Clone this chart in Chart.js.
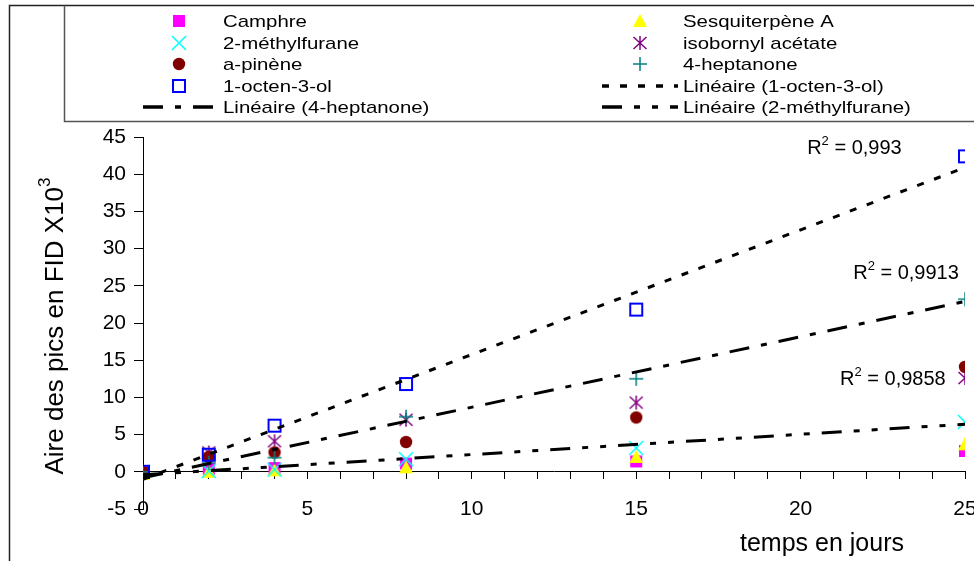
<!DOCTYPE html>
<html>
<head>
<meta charset="utf-8">
<script src="https://cdn.jsdelivr.net/npm/chart.js@4.4.1/dist/chart.umd.min.js"></script>
<style>
  html, body { margin: 0; padding: 0; background: #fff; }
  #wrap { position: relative; width: 974px; height: 561px; }
</style>
</head>
<body>
<div id="wrap"><canvas id="c" width="974" height="561"></canvas></div>
<script>
// values (x10^3)
const days = [0, 2, 4, 8, 15, 25];
const camphre = [0.1, 0.4, 0.5, 1.1, 1.4, 2.8];
const sesquiterpene = [-0.3, 0.0, 0.2, 0.6, 2.0, 3.7];
const methylfurane = [0.0, 0.1, 0.3, 1.7, 3.2, 6.7];
const isobornyl = [0.0, 2.6, 4.1, 7.0, 9.3, 12.6];
const apinene = [0.0, 2.0, 2.6, 4.0, 7.3, 14.1];
const heptanone = [0.0, 1.2, 1.9, 7.4, 12.5, 23.2];
const octenol = [0.0, 2.3, 6.2, 11.8, 21.8, 42.4];

// linear trend lines, ends
const trendDays = [0, 25];
const trendOctenol = [-1.0, 40.9];
const trendHeptanone = [-0.8, 22.9];
const trendMethylfurane = [-0.4, 6.4];
const r2Values = ['0,993', '0,9913', '0,9858'];

const FONT = "'Liberation Sans', Arial, sans-serif";

const pts = (xs, ys) => ys.map((y, i) => ({ x: xs[i], y: y }));

// small canvases used as point styles (and in the legend)
function marker(kind, color) {
  const c = document.createElement('canvas');
  c.width = 20; c.height = 20;
  const g = c.getContext('2d');
  g.fillStyle = color; g.strokeStyle = color; g.lineWidth = 1.5;
  g.beginPath();
  if (kind === 'square') {
    g.fillRect(4, 4, 12, 12);
  } else if (kind === 'box') {
    g.lineWidth = 2;
    g.strokeRect(4, 4, 12, 12);
  } else if (kind === 'triangle') {
    g.moveTo(10, 3); g.lineTo(17, 16); g.lineTo(3, 16); g.closePath(); g.fill();
  } else if (kind === 'circle') {
    g.arc(10, 10, 6.2, 0, Math.PI * 2); g.fill();
  } else if (kind === 'x') {
    g.moveTo(3, 3); g.lineTo(17, 17); g.moveTo(17, 3); g.lineTo(3, 17); g.stroke();
  } else if (kind === 'star') {
    g.moveTo(3.5, 4); g.lineTo(16.5, 16); g.moveTo(16.5, 4); g.lineTo(3.5, 16);
    g.moveTo(10, 3); g.lineTo(10, 17); g.stroke();
  } else if (kind === 'plus') {
    g.moveTo(10, 3); g.lineTo(10, 17); g.moveTo(3, 10); g.lineTo(17, 10); g.stroke();
  }
  return c;
}

function series(label, ys, kind, color, order) {
  return {
    type: 'scatter', label: label, data: pts(days, ys),
    pointStyle: marker(kind, color), pointRadius: 7, borderColor: color, backgroundColor: color,
    showLine: false, order: order
  };
}

function trend(label, ys, dash, order) {
  return {
    type: 'scatter', label: label, data: pts(trendDays, ys),
    showLine: true, borderColor: '#000', borderWidth: 3, borderDash: dash,
    pointRadius: 0, borderCapStyle: 'butt', order: order
  };
}

const datasets = [
  series('Camphre', camphre, 'square', '#FF00FF', 7),
  series('Sesquiterpène A', sesquiterpene, 'triangle', '#FFFF00', 6),
  series('2-méthylfurane', methylfurane, 'x', '#00FFFF', 5),
  series('isobornyl acétate', isobornyl, 'star', '#800080', 4),
  series('a-pinène', apinene, 'circle', '#800000', 3),
  series('4-heptanone', heptanone, 'plus', '#008080', 2),
  series('1-octen-3-ol', octenol, 'box', '#0000FF', 1),
  trend('Linéaire (1-octen-3-ol)', trendOctenol, [7, 11], 0),
  trend('Linéaire (4-heptanone)', trendHeptanone, [20, 12, 6, 12], 0),
  trend('Linéaire (2-méthylfurane)', trendMethylfurane, [20, 12, 6, 12, 6, 12], 0)
];

// legend: two columns, row by row
const legendCols = [[0, 2, 4, 6, 8], [1, 3, 5, 7, 9]];
const legendRowsY = [21, 43, 64, 86, 107];

const decor = {
  id: 'decor',
  beforeDraw(chart) {
    const ctx = chart.ctx;
    ctx.save();
    ctx.strokeStyle = '#222'; ctx.lineWidth = 1.5;
    ctx.beginPath();
    ctx.moveTo(9.5, 561); ctx.lineTo(9.5, 5.5); ctx.lineTo(974, 5.5);
    ctx.stroke();
    ctx.strokeStyle = '#555'; ctx.lineWidth = 1.5;
    ctx.beginPath();
    ctx.moveTo(64.5, 5.5); ctx.lineTo(64.5, 121.5); ctx.lineTo(974, 121.5);
    ctx.stroke();
    ctx.restore();
  },
  afterDraw(chart) {
    const ctx = chart.ctx;
    const xs = chart.scales.x, ys = chart.scales.y;
    ctx.save();
    // legend
    const colPos = [{ m: 179, l0: 143, l1: 219, t: 223 }, { m: 640, l0: 602, l1: 678, t: 683 }];
    ctx.textBaseline = 'middle';
    ctx.textAlign = 'left';
    legendCols.forEach((col, ci) => {
      const p = colPos[ci];
      col.forEach((di, ri) => {
        const ds = chart.data.datasets[di];
        const y = legendRowsY[ri];
        if (ds.showLine) {
          ctx.save();
          ctx.strokeStyle = '#000'; ctx.lineWidth = 3.5;
          ctx.setLineDash(ds.borderDash);
          ctx.beginPath(); ctx.moveTo(p.l0, y); ctx.lineTo(p.l1, y); ctx.stroke();
          ctx.restore();
        } else {
          const img = ds.pointStyle;
          ctx.drawImage(img, p.m - img.width / 2, y - img.height / 2);
        }
        // legend text is drawn a little wide, like the original
        ctx.save();
        ctx.translate(p.t, y + 1);
        ctx.scale(1.2, 1);
        ctx.font = '17px ' + FONT;
        ctx.fillStyle = '#000';
        ctx.fillText(ds.label, 0, 0);
        ctx.restore();
      });
    });
    // R² labels, anchored in data units
    ctx.fillStyle = '#000';
    const anchors = [[20.2, 43.5], [21.6, 26.6], [21.2, 12.4]];
    anchors.forEach((a, i) => {
      let x = xs.getPixelForValue(a[0]);
      const y = ys.getPixelForValue(a[1]);
      ctx.font = '20px ' + FONT;
      ctx.fillText('R', x, y);
      x += ctx.measureText('R').width;
      ctx.font = '13px ' + FONT;
      ctx.fillText('2', x, y - 7);
      x += ctx.measureText('2').width;
      ctx.font = '20px ' + FONT;
      ctx.fillText(' = ' + r2Values[i], x, y);
    });
    // axis titles
    ctx.font = '25px ' + FONT;
    ctx.textAlign = 'center';
    ctx.fillText('temps en jours', 822, 544);
    ctx.translate(56, 326);
    ctx.rotate(-Math.PI / 2);
    const main = 'Aire des pics en FID X10';
    ctx.font = '26px ' + FONT;
    const wMain = ctx.measureText(main).width;
    ctx.font = '17px ' + FONT;
    const wSup = ctx.measureText('3').width;
    ctx.textAlign = 'left';
    ctx.font = '26px ' + FONT;
    ctx.fillText(main, -(wMain + wSup) / 2, 0);
    ctx.font = '17px ' + FONT;
    ctx.fillText('3', -(wMain + wSup) / 2 + wMain, -11);
    ctx.restore();
  }
};

new Chart(document.getElementById('c'), {
  type: 'scatter',
  data: { datasets: datasets },
  options: {
    responsive: false,
    animation: false,
    layout: { padding: { top: 137, right: 9, bottom: 52, left: 0 } },
    plugins: { legend: { display: false }, tooltip: { enabled: false } },
    scales: {
      x: {
        type: 'linear', position: { y: 0 }, min: 0, max: 25,
        ticks: {
          stepSize: 1, autoSkip: false, maxRotation: 0, padding: 18,
          font: { size: 21, family: FONT }, color: '#000',
          callback: v => (v % 5 === 0 ? String(v) : '')
        },
        grid: { drawOnChartArea: false, drawTicks: true, tickLength: 7, color: '#000' },
        border: { color: '#000', width: 1 },
        afterFit: s => { s.paddingLeft = 0; s.paddingRight = 0; }
      },
      y: {
        min: -5, max: 45,
        ticks: { stepSize: 5, padding: 8, font: { size: 21, family: FONT }, color: '#000' },
        grid: { drawOnChartArea: false, drawTicks: true, tickLength: 9, color: '#000' },
        border: { color: '#000', width: 1 },
        afterFit: s => { s.width = 143; }
      }
    }
  },
  plugins: [decor]
});
</script>
</body>
</html>
